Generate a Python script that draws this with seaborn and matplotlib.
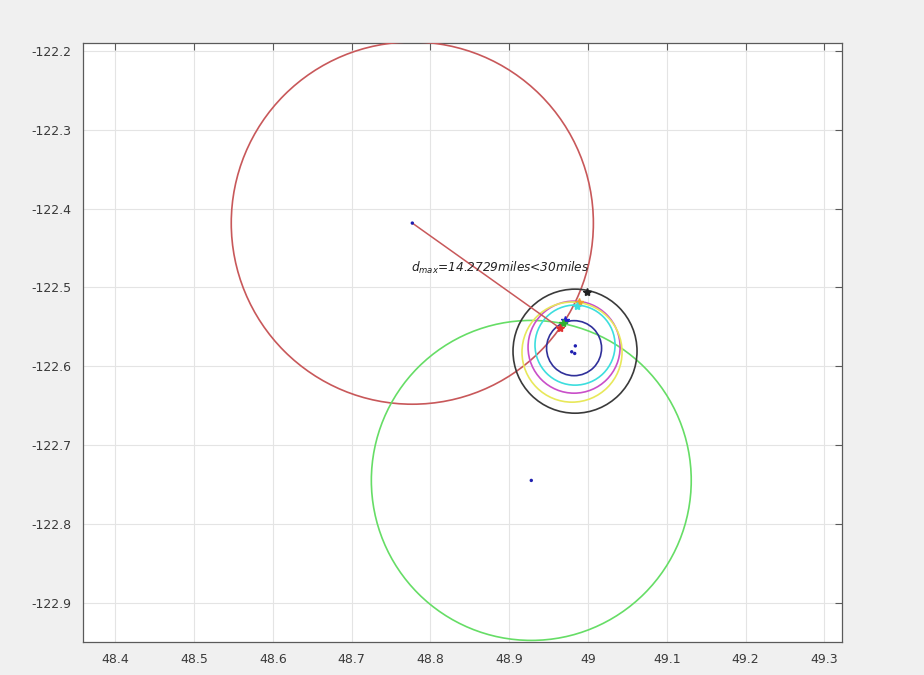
import matplotlib
matplotlib.use('Agg')
import matplotlib.pyplot as plt
from matplotlib.patches import Circle
import numpy as np
import pandas as pd
import seaborn as sns

# circles (range rings): centre x, centre y, radius, colour
circle_names = ['red', 'green', 'black', 'navy', 'cyan', 'magenta', 'yellow']
circle_x = [48.777, 48.928, 48.9835, 48.9823, 48.9835, 48.9823, 48.9797]
circle_y = [-122.4185, -122.745, -122.581, -122.5772, -122.5733, -122.5759, -122.5822]
circle_r = [0.2298, 0.203, 0.0787, 0.0349, 0.0508, 0.0584, 0.0635]
circle_col = ['#c8585a', '#66dd66', '#3a3a3a', '#30309a', '#3ddede', '#c94fc9', '#e8e85a']

# blue centre dots
dot_x = [48.777, 48.928, 48.9839, 48.9793, 48.9831]
dot_y = [-122.4185, -122.745, -122.5743, -122.5818, -122.5839]

# intersection markers
mark_x = [48.9988, 48.9886, 48.9861, 48.9708, 48.9683, 48.9645]
mark_y = [-122.5061, -122.5188, -122.5238, -122.5416, -122.5454, -122.5518]
mark_col = ['#222222', '#f0a030', '#3ddede', '#2020d0', '#30b030', '#e03030']

# d_max segment (red centre to furthest point)
seg_x = [48.777, 48.9645]
seg_y = [-122.4185, -122.5518]

label = r'$d_{max}$=14.2729miles<30miles'

sns.set_theme(style='whitegrid')
plt.rcParams['font.family'] = ['DejaVu Sans']

fig = plt.figure(figsize=(9.24, 6.75), dpi=100)
fig.patch.set_facecolor('#f0f0f0')
ax = fig.add_axes([0.0898, 0.0489, 0.8215, 0.8874])
ax.set_facecolor('white')

for cx, cy, r, c in zip(circle_x, circle_y, circle_r, circle_col):
    ax.add_patch(Circle((cx, cy), r, fill=False, edgecolor=c, lw=1.2, zorder=3))

seg = pd.DataFrame({'x': seg_x, 'y': seg_y})
sns.lineplot(data=seg, x='x', y='y', color='#c8585a', lw=1.1, sort=False, ax=ax, zorder=3)

dots = pd.DataFrame({'x': dot_x, 'y': dot_y})
sns.scatterplot(data=dots, x='x', y='y', color='#2020b0', s=6, edgecolor='none', ax=ax, zorder=4)

for mx, my, c in zip(mark_x, mark_y, mark_col):
    ax.plot(mx, my, marker='*', color=c, ms=6, mew=1, zorder=5)

ax.text(48.8883, -122.476, label, fontsize=8.7, style='italic', color='#222222',
        ha='center', va='center', zorder=6)

ax.set_xlim(48.359, 49.3224)
ax.set_ylim(-122.950, -122.190)
ax.set_xticks(np.round(np.arange(48.4, 49.31, 0.1), 1))
ax.set_xticklabels(['48.4', '48.5', '48.6', '48.7', '48.8', '48.9', '49', '49.1', '49.2', '49.3'])
ax.set_yticks(np.round(np.arange(-122.9, -122.19, 0.1), 1))
ax.set_yticklabels(['-122.9', '-122.8', '-122.7', '-122.6', '-122.5', '-122.4', '-122.3', '-122.2'])
ax.set_xlabel('')
ax.set_ylabel('')

ax.grid(True, color='#e4e4e4', lw=0.8)
for s in ax.spines.values():
    s.set_visible(True)
    s.set_color('#5a5a5a')
    s.set_linewidth(0.9)
ax.tick_params(direction='in', length=5, width=0.8, color='#5a5a5a',
               top=True, right=True, labelsize=9, labelcolor='#3a3a3a', pad=8)

fig.savefig('out.png', dpi=100, facecolor=fig.get_facecolor())
